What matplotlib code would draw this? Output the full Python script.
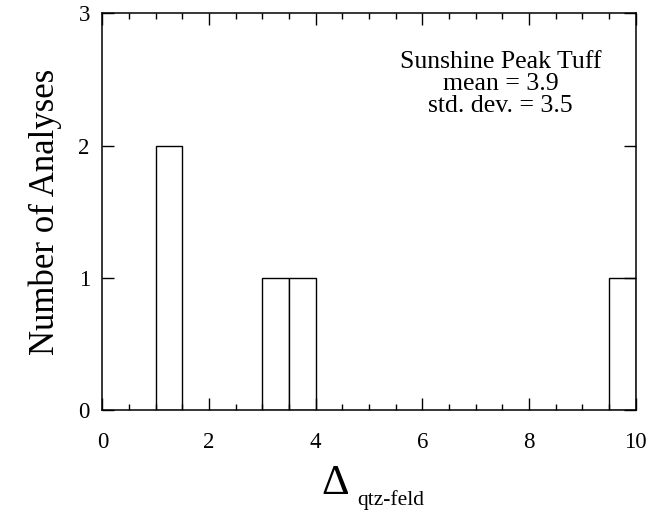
import matplotlib
matplotlib.use("Agg")
import matplotlib.pyplot as plt
from matplotlib.ticker import MultipleLocator

# histogram of quartz-feldspar fractionation, 0.5 wide bins
bin_left = [1.0, 3.0, 3.5, 9.5]
counts = [2, 1, 1, 1]
bin_width = 0.5

unit_name = "Sunshine Peak Tuff"
mean_val = 3.9
std_val = 3.5

plt.rcParams['font.family'] = ['Liberation Serif', 'DejaVu Serif']

fig = plt.figure(figsize=(6.52, 5.19), dpi=100)
ax = fig.add_axes([0.157, 0.21, 0.818, 0.764])

ax.bar(bin_left, counts, width=bin_width, align='edge',
       facecolor='white', edgecolor='black', linewidth=1.0)

ax.set_xlim(0, 10)
ax.set_ylim(0, 3)
ax.xaxis.set_major_locator(MultipleLocator(2))
ax.xaxis.set_minor_locator(MultipleLocator(0.5))
ax.yaxis.set_major_locator(MultipleLocator(1))
ax.tick_params(which='both', direction='in', top=True, right=True,
               width=1.0, color='black')
ax.tick_params(which='major', length=8.5, labelsize=16.5)
ax.tick_params(which='minor', length=4)
ax.tick_params(axis='x', pad=16)
ax.tick_params(axis='y', pad=9)
for s in ax.spines.values():
    s.set_linewidth(1.1)

ax.set_ylabel("Number of Analyses", fontsize=25, labelpad=12)

# delta symbol with its subscript
fig.text(321 / 652, 1 - 494 / 519, "Δ", fontsize=31, ha='left', va='baseline')
fig.text(357 / 652, 1 - 505 / 519, "qtz-feld", fontsize=15.5, ha='left', va='baseline')

ax.text(7.47, 2.72,
        f"{unit_name}\nmean = {mean_val}\nstd. dev. = {std_val}",
        ha='center', va='top', fontsize=18.5, linespacing=1.0)

fig.savefig("out.png", dpi=100)
